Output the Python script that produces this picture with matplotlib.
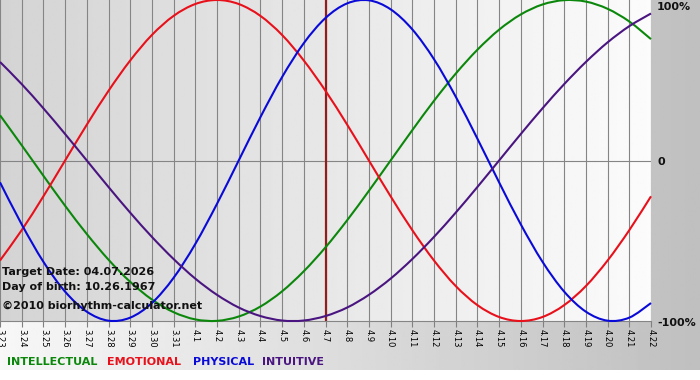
import numpy as np
import matplotlib.pyplot as plt
from matplotlib.path import Path
from matplotlib.patches import PathPatch

# days shown on the x axis (3.23 .. 4.22), target day is 4.7
day_labels = ["3.23", "3.24", "3.25", "3.26", "3.27", "3.28", "3.29", "3.30", "3.31",
              "4.1", "4.2", "4.3", "4.4", "4.5", "4.6", "4.7", "4.8", "4.9", "4.10",
              "4.11", "4.12", "4.13", "4.14", "4.15", "4.16", "4.17", "4.18", "4.19",
              "4.20", "4.21", "4.22"]
target_label = "4.7"

# cycle values read per day, -1 .. 1
intellectual = [0.282, 0.095, -0.095, -0.282, -0.458, -0.618, -0.756, -0.866, -0.945,
                -0.990, -0.999, -0.972, -0.910, -0.815, -0.690, -0.541, -0.372, -0.189,
                0.000, 0.189, 0.372, 0.541, 0.690, 0.815, 0.910, 0.972, 0.999, 0.990,
                0.945, 0.866, 0.756]
emotional = [-0.623, -0.434, -0.223, 0.000, 0.223, 0.434, 0.623, 0.782, 0.901, 0.975,
             1.000, 0.975, 0.901, 0.782, 0.623, 0.434, 0.223, 0.000, -0.223, -0.434,
             -0.623, -0.782, -0.901, -0.975, -1.000, -0.975, -0.901, -0.782, -0.623,
             -0.434, -0.223]
physical = [-0.136, -0.398, -0.631, -0.817, -0.942, -0.998, -0.979, -0.888, -0.731,
            -0.520, -0.270, 0.000, 0.270, 0.520, 0.731, 0.888, 0.979, 0.998, 0.942,
            0.817, 0.631, 0.398, 0.136, -0.136, -0.398, -0.631, -0.817, -0.942,
            -0.998, -0.979, -0.888]
intuitive = [0.614, 0.476, 0.325, 0.165, 0.000, -0.165, -0.325, -0.476, -0.614,
             -0.736, -0.837, -0.916, -0.969, -0.997, -0.997, -0.969, -0.916, -0.837,
             -0.736, -0.614, -0.476, -0.325, -0.165, 0.000, 0.165, 0.325, 0.476,
             0.614, 0.736, 0.837, 0.916]

series = [("INTELLECTUAL", intellectual, "#0b870b"),
          ("EMOTIONAL", emotional, "#e8101a"),
          ("PHYSICAL", physical, "#0a0ad8"),
          ("INTUITIVE", intuitive, "#4a1580")]

W, H = 700, 380


def fx(x):
    return x / W


def fy(y):
    return 1 - y / H


def smooth_path(xs, ys):
    # catmull-rom through the points, drawn as cubic bezier segments
    pts = np.column_stack([xs, ys]).astype(float)
    verts = [pts[0]]
    codes = [Path.MOVETO]
    n = len(pts)
    for i in range(n - 1):
        p0 = pts[max(i - 1, 0)]
        p1, p2 = pts[i], pts[i + 1]
        p3 = pts[min(i + 2, n - 1)]
        verts += [p1 + (p2 - p0) / 6, p2 - (p3 - p1) / 6, p2]
        codes += [Path.CURVE4] * 3
    return Path(verts, codes)


fig = plt.figure(figsize=(7, 3.8), dpi=100)
fig.patch.set_facecolor("white")

# outer frame gradient (light left -> gray right)
bg = fig.add_axes([0, fy(370), 1, 370 / H], zorder=0)
bg.imshow(np.linspace(0.97, 0.75, 256)[None, :], cmap="gray", vmin=0, vmax=1,
          aspect="auto", extent=[0, 1, 0, 1])
bg.axis("off")

# plot area
ax = fig.add_axes([0, fy(321), fx(651), 321 / H], zorder=1)
x = np.arange(len(day_labels))
ax.imshow(np.linspace(0.83, 0.985, 256)[None, :], cmap="gray", vmin=0, vmax=1,
          aspect="auto", extent=[0, len(day_labels) - 1, -1, 1], zorder=0)
ax.set_xlim(0, len(day_labels) - 1)
ax.set_ylim(-1, 1)

ax.set_xticks(x)
ax.set_xticklabels(day_labels, rotation=270, fontsize=6, fontfamily="DejaVu Sans")
ax.tick_params(axis="x", length=4, width=0.8, color="#808080", pad=1.5)
ax.set_yticks([])
ax.grid(axis="x", color="#858585", lw=0.8, zorder=1)
ax.axhline(0, color="#858585", lw=0.8, zorder=1)
for s in ["top", "left", "right"]:
    ax.spines[s].set_visible(False)
ax.spines["bottom"].set_color("#858585")
ax.spines["bottom"].set_linewidth(0.8)

ax.axvline(day_labels.index(target_label), color="#931c1c", lw=1.6, zorder=2)

for name, vals, col in series:
    ax.add_patch(PathPatch(smooth_path(x, vals), facecolor="none", edgecolor=col,
                           lw=1.5, zorder=3, clip_on=False))

# right side percentage labels
for txt, y in [("100%", 7), ("0", 162), ("-100%", 323)]:
    fig.text(fx(657), fy(y), txt, fontsize=8, fontweight="bold", va="center",
             ha="left", color="#111111")

# info text inside the plot
info = [("Target Date: 04.07.2026", 272), ("Day of birth: 10.26.1967", 287),
        ("\u00a92010 biorhythm-calculator.net", 306)]
for txt, y in info:
    fig.text(fx(2), fy(y), txt, fontsize=8, fontweight="bold", va="center",
             ha="left", color="#111111", zorder=5)

# legend words
legend_x = [7, 107, 193, 262]
for (name, vals, col), lx in zip(series, legend_x):
    fig.text(fx(lx), fy(362), name, fontsize=8, fontweight="bold", va="center",
             ha="left", color=col)

fig.savefig("out.png", dpi=100)
